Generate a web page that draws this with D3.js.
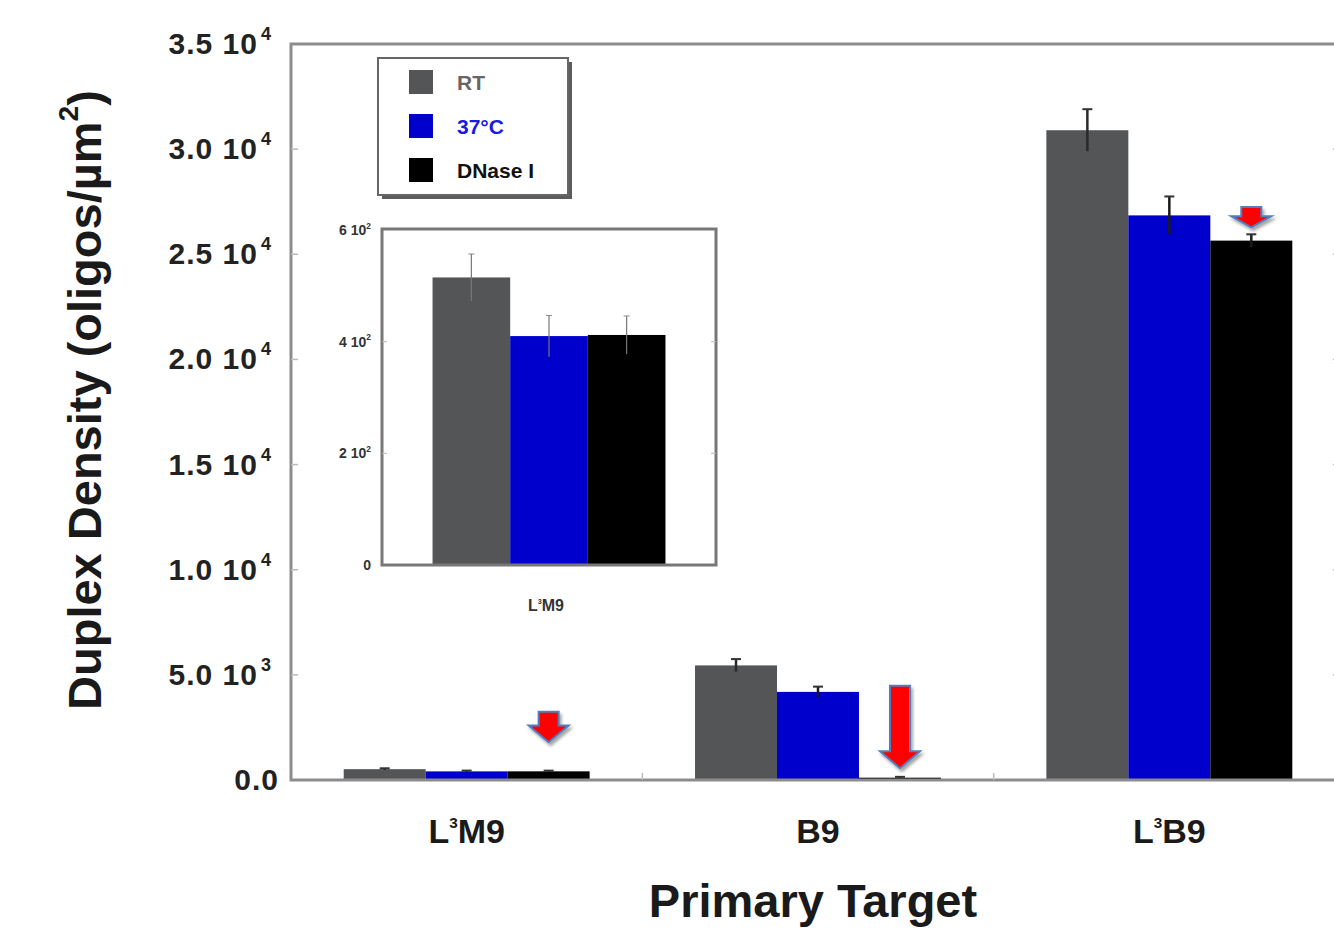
<!DOCTYPE html>
<html>
<head>
<meta charset="utf-8">
<script src="https://cdn.jsdelivr.net/npm/d3@7"></script>
<style>
  body { margin: 0; background: #fff; }
  svg text { font-family: "Liberation Sans", Arial, sans-serif; font-weight: bold; }
</style>
</head>
<body>
<svg width="1334" height="933"></svg>
<script>
// values
const categories = ["L3M9", "B9", "L3B9"];
const series = ["RT", "37°C", "DNase I"];
const rtValues = [515, 5450, 30900];
const warmValues = [410, 4190, 26850];
const dnaseValues = [412, 110, 25650];
const rtErrors = [42, 300, 1000];
const warmErrors = [37, 250, 900];
const dnaseErrors = [34, 40, 300];
const yTicks = [0, 5000, 10000, 15000, 20000, 25000, 30000, 35000];
const insetTicks = [0, 200, 400, 600];
// red annotation arrows: category, tail value, tip value
const arrowCats = ["L3M9", "B9", "L3B9"];
const arrowFrom = [3240, 4480, 27250];
const arrowTo = [1800, 560, 26280];

const colors = {"RT": "#545557", "37°C": "#0000cc", "DNase I": "#000000"};
const legendText = {"RT": "#666", "37°C": "#1a1ae6", "DNase I": "#111"};

const rows = [];
categories.forEach((c, i) => {
  rows.push({cat: c, s: "RT", v: rtValues[i], e: rtErrors[i]});
  rows.push({cat: c, s: "37°C", v: warmValues[i], e: warmErrors[i]});
  rows.push({cat: c, s: "DNase I", v: dnaseValues[i], e: dnaseErrors[i]});
});

const svg = d3.select("svg");
const defs = svg.append("defs");
const sh = defs.append("filter").attr("id", "shadow").attr("x", "-30%").attr("y", "-30%").attr("width", "160%").attr("height", "160%");
sh.append("feDropShadow").attr("dx", 2).attr("dy", 3).attr("stdDeviation", 1.5).attr("flood-color", "#000").attr("flood-opacity", 0.35);

const plot = {left: 291, right: 1345, top: 44, bottom: 780};
const x = d3.scaleBand().domain(categories).range([plot.left, plot.right]).paddingInner(0.3).paddingOuter(0.15);
const xs = d3.scaleBand().domain(series).range([0, x.bandwidth()]);
const y = d3.scaleLinear().domain([0, 35000]).range([plot.bottom, plot.top]);

function catLabel(sel, name) {
  if (name.startsWith("L3")) {
    sel.append("tspan").text("L");
    sel.append("tspan").attr("font-size", "0.45em").attr("dy", "-0.95em").text("3");
    sel.append("tspan").attr("dy", "0.43em").text(name.slice(2));
  } else sel.text(name);
}

function sciLabel(sel, v, digits) {
  if (v === 0) { sel.text(digits ? "0.0" : "0"); return; }
  const ex = Math.floor(Math.log10(v));
  const m = v / Math.pow(10, ex);
  sel.append("tspan").text((digits ? m.toFixed(digits) : m) + " 10");
  sel.append("tspan").attr("font-size", "0.6em").attr("dy", "-0.75em").text(ex);
}

// bars
const g = svg.append("g");
g.selectAll("rect.bar").data(rows).join("rect")
  .attr("class", "bar")
  .attr("x", d => x(d.cat) + xs(d.s))
  .attr("width", xs.bandwidth())
  .attr("y", d => y(d.v))
  .attr("height", d => y(0) - y(d.v))
  .attr("fill", d => colors[d.s]);

// error bars
const eb = g.selectAll("g.err").data(rows).join("g").attr("class", "err")
  .attr("transform", d => `translate(${x(d.cat) + xs(d.s) + xs.bandwidth() / 2},0)`);
eb.append("line").attr("y1", d => y(d.v - d.e)).attr("y2", d => y(d.v + d.e))
  .attr("stroke", d => d.s === "RT" ? "#2a2a2a" : "#1a1a1a").attr("stroke-width", 2.5);
eb.append("line").attr("x1", -5).attr("x2", 5).attr("y1", d => y(d.v + d.e)).attr("y2", d => y(d.v + d.e))
  .attr("stroke", "#333").attr("stroke-width", 2);

// frame
const frame = svg.append("g").attr("stroke", "#8c8c8c").attr("stroke-width", 3).attr("fill", "none");
frame.append("path").attr("d", `M${plot.left},${plot.top}H${plot.right}V${plot.bottom}H${plot.left}Z`);
const tk = svg.append("g").attr("stroke", "#bbb").attr("stroke-width", 1.5);
yTicks.slice(1, -1).forEach(t => {
  tk.append("line").attr("x1", plot.left).attr("x2", plot.left + 7).attr("y1", y(t)).attr("y2", y(t));
  tk.append("line").attr("x1", plot.right - 12).attr("x2", plot.right).attr("y1", y(t)).attr("y2", y(t));
});
categories.slice(1).forEach(c => {
  const bx = x(c) - x.step() * x.paddingInner() / 2;
  tk.append("line").attr("x1", bx).attr("x2", bx).attr("y1", plot.bottom).attr("y2", plot.bottom - 7);
});

// y tick labels
svg.append("g").selectAll("text").data(yTicks).join("text")
  .attr("x", d => d === 0 ? 279 : 258)
  .attr("y", d => y(d) + 10)
  .attr("text-anchor", "end")
  .attr("font-size", 30)
  .attr("fill", "#222")
  .attr("letter-spacing", 1)
  .each(function (d) {
    const t = d3.select(this);
    if (d === 0) { t.text("0.0"); return; }
    const ex = Math.floor(Math.log10(d));
    t.text((d / Math.pow(10, ex)).toFixed(1) + " 10");
    svg.append("text").attr("x", 261).attr("y", y(d) - 4).attr("font-size", 18).attr("fill", "#222").text(ex);
  });

// category labels
categories.forEach(c => {
  svg.append("text").attr("x", x(c) + x.bandwidth() / 2).attr("y", 843)
    .attr("text-anchor", "middle").attr("font-size", 34).attr("fill", "#1a1a1a")
    .call(catLabel, c);
});

svg.append("text").attr("x", 813).attr("y", 917).attr("text-anchor", "middle")
  .attr("font-size", 47).attr("fill", "#1a1a1a").text("Primary Target");

const yt = svg.append("text").attr("transform", "translate(101,400) rotate(-90)")
  .attr("text-anchor", "middle").attr("font-size", 47).attr("fill", "#1a1a1a");
yt.append("tspan").text("Duplex Density (oligos/µm");
yt.append("tspan").attr("font-size", "0.6em").attr("dy", "-0.8em").text("2");
yt.append("tspan").attr("dy", "0.48em").text(")");

// arrows
arrowCats.forEach((c, i) => {
  const cx = x(c) + xs("DNase I") + xs.bandwidth() / 2;
  const y0 = y(arrowFrom[i]), y1 = y(arrowTo[i]);
  const head = Math.min(17, (y1 - y0) * 0.55);
  const bw = 10, hw = 20;
  const pts = [[cx - bw, y0], [cx + bw, y0], [cx + bw, y1 - head], [cx + hw, y1 - head], [cx, y1],
               [cx - hw, y1 - head], [cx - bw, y1 - head]];
  svg.append("polygon").attr("points", pts.map(p => p.join(",")).join(" "))
    .attr("fill", "#ff0000").attr("stroke", "#4f7fbf").attr("stroke-width", 2)
    .attr("stroke-linejoin", "miter").attr("filter", "url(#shadow)");
});

// legend
const lg = svg.append("g");
lg.append("rect").attr("x", 382).attr("y", 62).attr("width", 190).attr("height", 137).attr("fill", "#333").attr("opacity", 0.8);
lg.append("rect").attr("x", 378).attr("y", 58).attr("width", 190).attr("height", 137)
  .attr("fill", "#fff").attr("stroke", "#666").attr("stroke-width", 2);
series.forEach((s, i) => {
  const cy = 82 + i * 44;
  lg.append("rect").attr("x", 409).attr("y", cy - 12).attr("width", 24).attr("height", 24).attr("fill", colors[s]);
  lg.append("text").attr("x", 457).attr("y", cy + 8).attr("font-size", 21)
    .attr("fill", legendText[s]).text(s);
});

// inset
const ib = {left: 382, right: 716, top: 229, bottom: 565};
const ix = d3.scaleBand().domain(["L3M9"]).range([ib.left, ib.right]).paddingInner(0).paddingOuter(0.217);
const ixs = d3.scaleBand().domain(series).range([0, ix.bandwidth()]);
const iy = d3.scaleLinear().domain([0, 600]).range([ib.bottom, ib.top + 1]);
const insetRows = rows.filter(d => d.cat === "L3M9");
const ig = svg.append("g");
ig.append("rect").attr("x", ib.left).attr("y", ib.top).attr("width", ib.right - ib.left).attr("height", ib.bottom - ib.top)
  .attr("fill", "#fff");
ig.selectAll("rect.ibar").data(insetRows).join("rect").attr("class", "ibar")
  .attr("x", d => ix(d.cat) + ixs(d.s)).attr("width", ixs.bandwidth())
  .attr("y", d => iy(d.v)).attr("height", d => iy(0) - iy(d.v))
  .attr("fill", d => colors[d.s]);
ig.selectAll("line.ierr").data(insetRows).join("line").attr("class", "ierr")
  .attr("x1", d => ix(d.cat) + ixs(d.s) + ixs.bandwidth() / 2)
  .attr("x2", d => ix(d.cat) + ixs(d.s) + ixs.bandwidth() / 2)
  .attr("y1", d => iy(d.v - d.e)).attr("y2", d => iy(d.v + d.e))
  .attr("stroke", "#777").attr("stroke-width", 1.2);
ig.selectAll("line.icap").data(insetRows).join("line").attr("class", "icap")
  .attr("x1", d => ix(d.cat) + ixs(d.s) + ixs.bandwidth() / 2 - 3)
  .attr("x2", d => ix(d.cat) + ixs(d.s) + ixs.bandwidth() / 2 + 3)
  .attr("y1", d => iy(d.v + d.e)).attr("y2", d => iy(d.v + d.e))
  .attr("stroke", "#888").attr("stroke-width", 1);
ig.append("rect").attr("x", ib.left).attr("y", ib.top).attr("width", ib.right - ib.left).attr("height", ib.bottom - ib.top)
  .attr("fill", "none").attr("stroke", "#777").attr("stroke-width", 3);
insetTicks.slice(1, -1).forEach(t => {
  ig.append("line").attr("x1", ib.left).attr("x2", ib.left + 5).attr("y1", iy(t)).attr("y2", iy(t)).attr("stroke", "#bbb");
  ig.append("line").attr("x1", ib.right - 5).attr("x2", ib.right).attr("y1", iy(t)).attr("y2", iy(t)).attr("stroke", "#bbb");
});
ig.selectAll("text.itick").data(insetTicks).join("text").attr("class", "itick")
  .attr("x", 371).attr("y", d => iy(d) + 5).attr("text-anchor", "end")
  .attr("font-size", 14).attr("fill", "#333")
  .each(function (d) { sciLabel(d3.select(this), d, 0); });
ig.append("text").attr("x", ix("L3M9") + ix.bandwidth() / 2 - 3).attr("y", 611).attr("text-anchor", "middle")
  .attr("font-size", 16).attr("fill", "#333").call(catLabel, "L3M9");
</script>
</body>
</html>
